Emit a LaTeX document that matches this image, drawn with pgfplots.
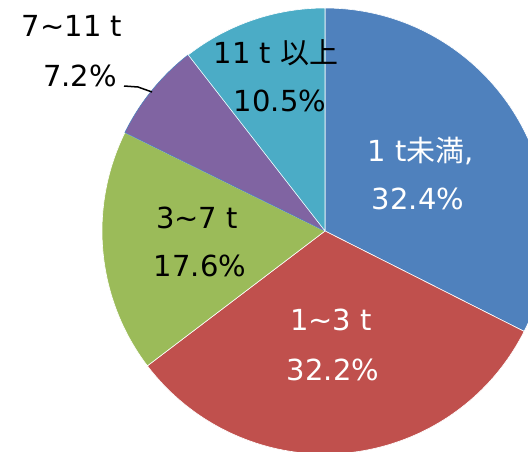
\documentclass[border=0pt]{standalone}
\usepackage{fontspec}
\setmainfont{DejaVu Sans}
\newfontfamily\jp{Noto Sans CJK JP}
\usepackage{pgfplots}
\pgfplotsset{compat=1.18}
\definecolor{cBlue}{HTML}{4F81BD}
\definecolor{cRed}{HTML}{C0504D}
\definecolor{cGreen}{HTML}{9BBB59}
\definecolor{cPurple}{HTML}{8064A2}
\definecolor{cTeal}{HTML}{4BACC6}
\begin{document}
\begin{tikzpicture}
\begin{axis}[width=528pt,height=451pt,scale only axis,
  xmin=0,xmax=528,ymin=0,ymax=451,hide axis,clip=true]
\pgfplotsextra{
  \gdef\cum{0}
  \foreach \p/\fc/\dc in {32.4/cBlue/white,32.2/cRed/white,17.6/cGreen/white,7.2/cPurple/cBlue,10.5/cTeal/white}{
    \pgfmathsetmacro\angA{90-\cum/99.9*360}
    \pgfmathsetmacro\angB{90-(\cum+\p)/99.9*360}
    \filldraw[fill=\fc,draw=\dc,line width=0.6pt] (axis cs:325,220) -- ++(\angA:223pt) arc[start angle=\angA,end angle=\angB,radius=223pt] -- cycle;
    \pgfmathsetmacro\nn{\cum+\p}\xdef\cum{\nn}
  }
}
\addplot[black,line width=1.5pt] coordinates {(124,365) (138,364) (152,359)};
\tikzset{lab/.style={anchor=base,font=\fontsize{29}{35}\selectfont,inner sep=0pt}}
\node[lab,white] at (axis cs:421,290) {1 t{\jp 未満},};
\node[lab,white] at (axis cs:418,242) {32.4\%};
\node[lab,white] at (axis cs:331,121) {1\char"7E 3 t};
\node[lab,white] at (axis cs:333,71) {32.2\%};
\node[lab,black] at (axis cs:197,223) {3\char"7E 7 t};
\node[lab,black] at (axis cs:200,175) {17.6\%};
\node[lab,black] at (axis cs:276,387) {11 t {\jp 以上}};
\node[lab,black] at (axis cs:280,339) {10.5\%};
\node[lab,black] at (axis cs:72,414) {7\char"7E 11 t};
\node[lab,black] at (axis cs:80,364) {7.2\%};
\end{axis}
\pgfresetboundingbox
\path[use as bounding box] (current axis.south west) rectangle (current axis.north east);
\end{tikzpicture}
\end{document}
